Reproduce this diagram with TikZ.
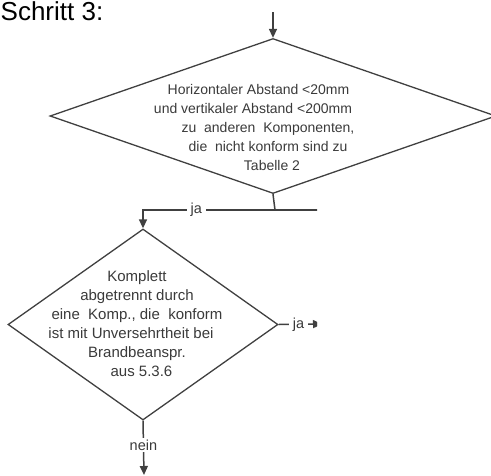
\documentclass[tikz,border=0pt]{standalone}
\usepackage{fontspec}
\setmainfont{Liberation Sans}
\usetikzlibrary{shapes.geometric,arrows.meta}
\definecolor{linegray}{HTML}{404040}
\definecolor{textgray}{HTML}{3A3A3A}
\tikzset{
  decision/.style={diamond, draw=linegray, line width=1.3pt, inner sep=0pt},
  dtext/.style={text=textgray, align=center, inner sep=0pt,
    font=\fontsize{15}{19}\selectfont},
  flow/.style={draw=linegray, line width=1.5pt},
  arr/.style={flow, -{Triangle[length=9pt,width=8pt]}},
  lbl/.style={fill=white, text=textgray, inner xsep=4pt, inner ysep=2pt,
    font=\fontsize{14.5}{16}\selectfont},
}
\begin{document}
\begin{tikzpicture}[x=1pt,y=-1pt]
\useasboundingbox (0,0) rectangle (491,475);

% heading
\node[anchor=base west, inner sep=0pt, font=\fontsize{26}{30}\selectfont]
  (title) at (0.5,20) {Schritt 3:};

% first decision: distances to other components
\node[decision, minimum width=446pt, minimum height=155pt] (d1) at (273,116) {};
\node[dtext, font=\fontsize{14}{19}\selectfont] (d1t) at (268,127) {%
  \mbox{Horizontaler Abstand <20mm\hspace{19pt}}\\
  \mbox{und vertikaler Abstand <200mm\hspace{30pt}}\\
  zu\ \ anderen\ \ Komponenten,\\
  die\ \ nicht konform sind zu\\
  \mbox{\hspace{8pt}Tabelle 2}};

% second decision: complete separation
\node[decision, minimum width=270pt, minimum height=191pt] (d2) at (143,324.5) {};
\node[dtext] (d2t) at (137,324) {%
  Komplett\\
  abgetrennt durch\\
  eine\ \ Komp., die\ \ konform\\
  \mbox{ist mit Unversehrtheit bei\hspace{12pt}}\\
  Brandbeanspr.\\
  \mbox{\hspace{9pt}aus 5.3.6}};

% incoming flow
\coordinate (in1) at (273,12);
\draw[arr] (in1) -- (d1.north);

% branch below the first decision
\coordinate (br) at (275,210);
\draw[flow] (d1.south) -- (br);

\begin{scope}
  \clip (0,195) rectangle (317,480);
  \coordinate (brR) at (340,210);
  \coordinate (out1) at (322,324);
  \coordinate (out2) at (144,475);
  \draw[flow] (br) -- (brR);
  \draw[arr] (br) -| node[lbl, pos=0.298] (ja1) {ja} (d2.north);
  \draw[arr] (d2.east) -- node[lbl, pos=0.46] (ja2) {ja} (out1);
  \draw[arr] (d2.south) -- node[lbl, pos=0.45] (nein) {nein} (out2);
\end{scope}
\end{tikzpicture}
\end{document}
